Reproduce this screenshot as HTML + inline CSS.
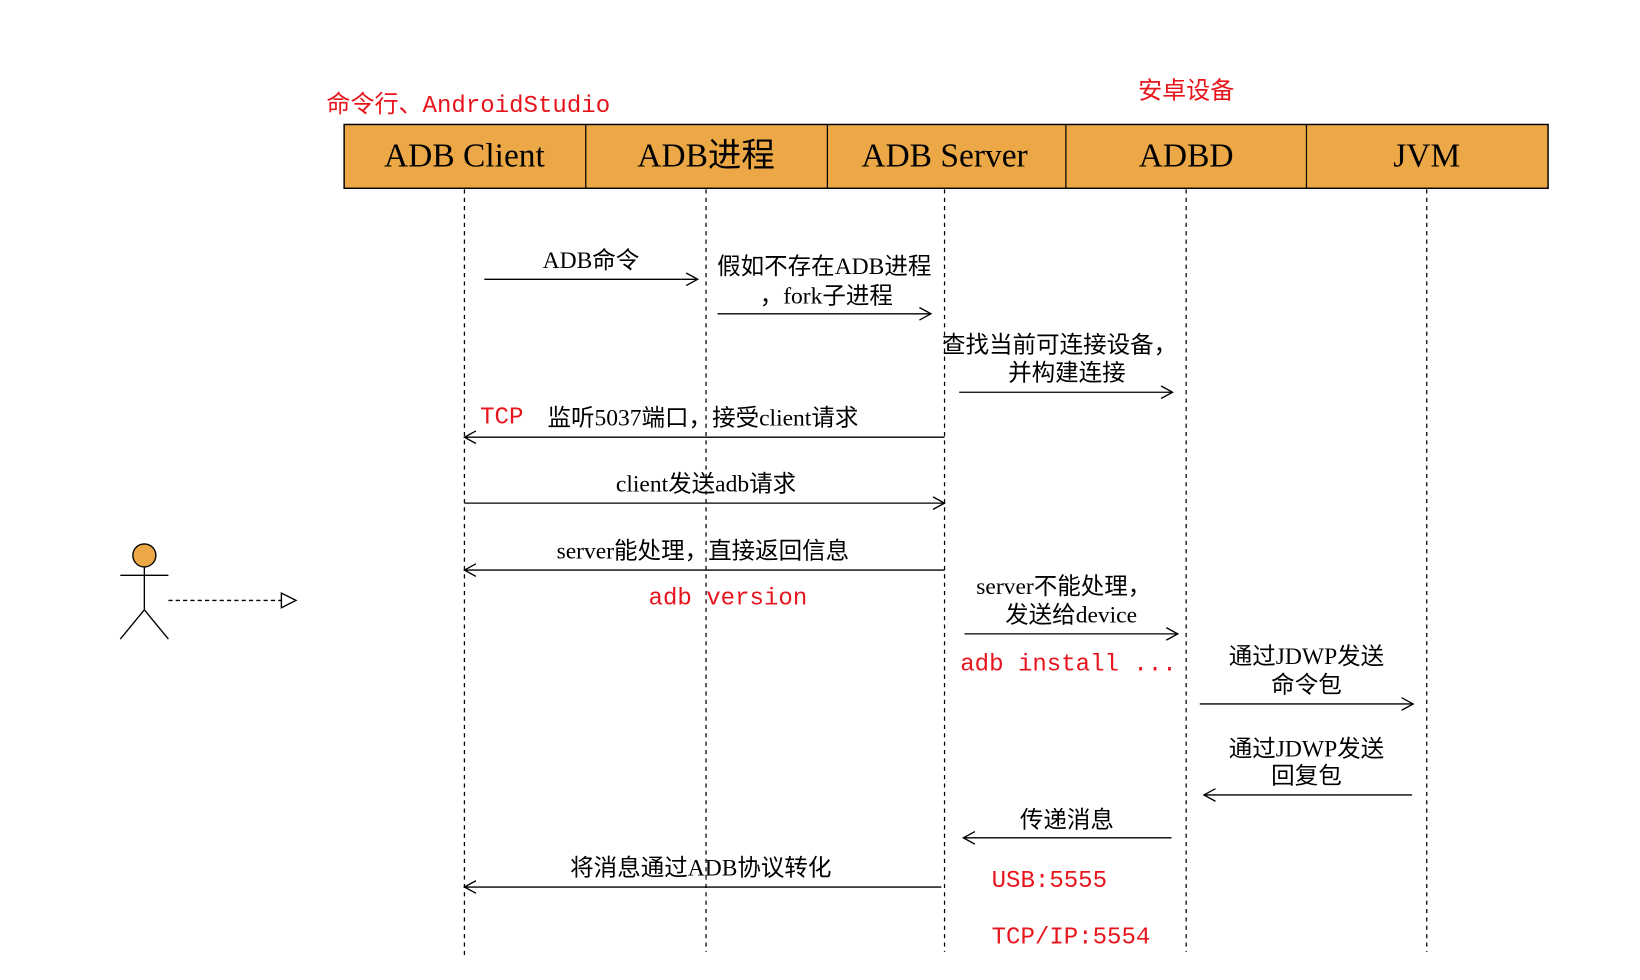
<!DOCTYPE html>
<html><head><meta charset="utf-8"><style>
html,body{margin:0;padding:0;background:#fff;width:1640px;height:980px;overflow:hidden}
svg{display:block}
.t{font-family:"Liberation Serif","Noto Sans CJK SC",serif;font-size:22.5px;fill:#000;text-anchor:middle}
.h{font-family:"Liberation Serif","Noto Sans CJK SC",serif;font-size:32px;fill:#000;text-anchor:middle}
.r{font-family:"Liberation Mono","Noto Sans CJK SC",monospace;font-size:23px;fill:#e8141c}
.ll{stroke:#000;stroke-width:1.2;stroke-dasharray:4 4;fill:none}
.m{stroke:#000;stroke-width:1.3;fill:none}
</style></head><body>
<svg width="1640" height="980" viewBox="0 0 1640 980">
<g transform="scale(1.046)">
<text class="r" x="312" y="107">命令行、AndroidStudio</text>
<text class="r" x="1134" y="94" style="text-anchor:middle">安卓设备</text>
<rect x="329" y="119" width="1151" height="61" fill="#eca846" stroke="#000" stroke-width="1.4"/>
<line x1="560" y1="119" x2="560" y2="180" stroke="#000" stroke-width="1.2"/>
<line x1="791" y1="119" x2="791" y2="180" stroke="#000" stroke-width="1.2"/>
<line x1="1019" y1="119" x2="1019" y2="180" stroke="#000" stroke-width="1.2"/>
<line x1="1249" y1="119" x2="1249" y2="180" stroke="#000" stroke-width="1.2"/>
<text class="h" x="444" y="159">ADB Client</text>
<text class="h" x="675" y="159">ADB进程</text>
<text class="h" x="903" y="159">ADB Server</text>
<text class="h" x="1134" y="159">ADBD</text>
<text class="h" x="1364" y="159">JVM</text>
<line class="ll" x1="444" y1="181" x2="444" y2="915"/>
<line class="ll" x1="675" y1="181" x2="675" y2="910"/>
<line class="ll" x1="903" y1="181" x2="903" y2="910"/>
<line class="ll" x1="1134" y1="181" x2="1134" y2="910"/>
<line class="ll" x1="1364" y1="181" x2="1364" y2="910"/>

<text class="t" x="565" y="256">ADB命令</text>
<path class="m" d="M463 267H667M656 261l11 6-11 6"/>
<text class="t" x="788" y="262">假如不存在ADB进程</text>
<text class="t" x="790" y="290">，fork子进程</text>
<path class="m" d="M686 300H890M879 294l11 6-11 6"/>
<text class="t" x="1013" y="337">查找当前可连接设备，</text>
<text class="t" x="1020" y="364">并构建连接</text>
<path class="m" d="M917 375H1121M1110 369l11 6-11 6"/>
<text class="r" x="459" y="405">TCP</text>
<text class="t" x="672" y="407">监听5037端口，接受client请求</text>
<path class="m" d="M903 418H444M455 412l-11 6 11 6"/>
<text class="t" x="675" y="470">client发送adb请求</text>
<path class="m" d="M444 481H903M892 475l11 6-11 6"/>
<text class="t" x="672" y="534">server能处理，直接返回信息</text>
<path class="m" d="M903 545H444M455 539l-11 6 11 6"/>
<text class="r" x="620" y="578">adb version</text>
<text class="t" x="1017" y="568">server不能处理，</text>
<text class="t" x="1024" y="595">发送给device</text>
<path class="m" d="M922 606H1126M1115 600l11 6-11 6"/>
<text class="r" x="918" y="641">adb install ...</text>
<text class="t" x="1249" y="635">通过JDWP发送</text>
<text class="t" x="1249" y="662">命令包</text>
<path class="m" d="M1147 673H1351M1340 667l11 6-11 6"/>
<text class="t" x="1249" y="723">通过JDWP发送</text>
<text class="t" x="1249" y="749">回复包</text>
<path class="m" d="M1350 760H1151M1162 754l-11 6 11 6"/>
<text class="t" x="1020" y="791">传递消息</text>
<path class="m" d="M1120 801H921M932 795l-11 6 11 6"/>
<text class="t" x="670" y="837">将消息通过ADB协议转化</text>
<path class="m" d="M900 848H444M455 842l-11 6 11 6"/>
<text class="r" x="948" y="848">USB:5555</text>
<text class="r" x="948" y="902">TCP/IP:5554</text>

<circle cx="138" cy="531" r="11" fill="#eca846" stroke="#000" stroke-width="1.3"/>
<path class="m" d="M115 550H161M138 542V583M138 583L115 611M138 583L161 611"/>
<path d="M161 574H269" stroke="#000" stroke-width="1.3" stroke-dasharray="4 3"/>
<path d="M269 567L283 574L269 581Z" fill="#fff" stroke="#000" stroke-width="1.3"/>
</g>
</svg>
</body></html>
